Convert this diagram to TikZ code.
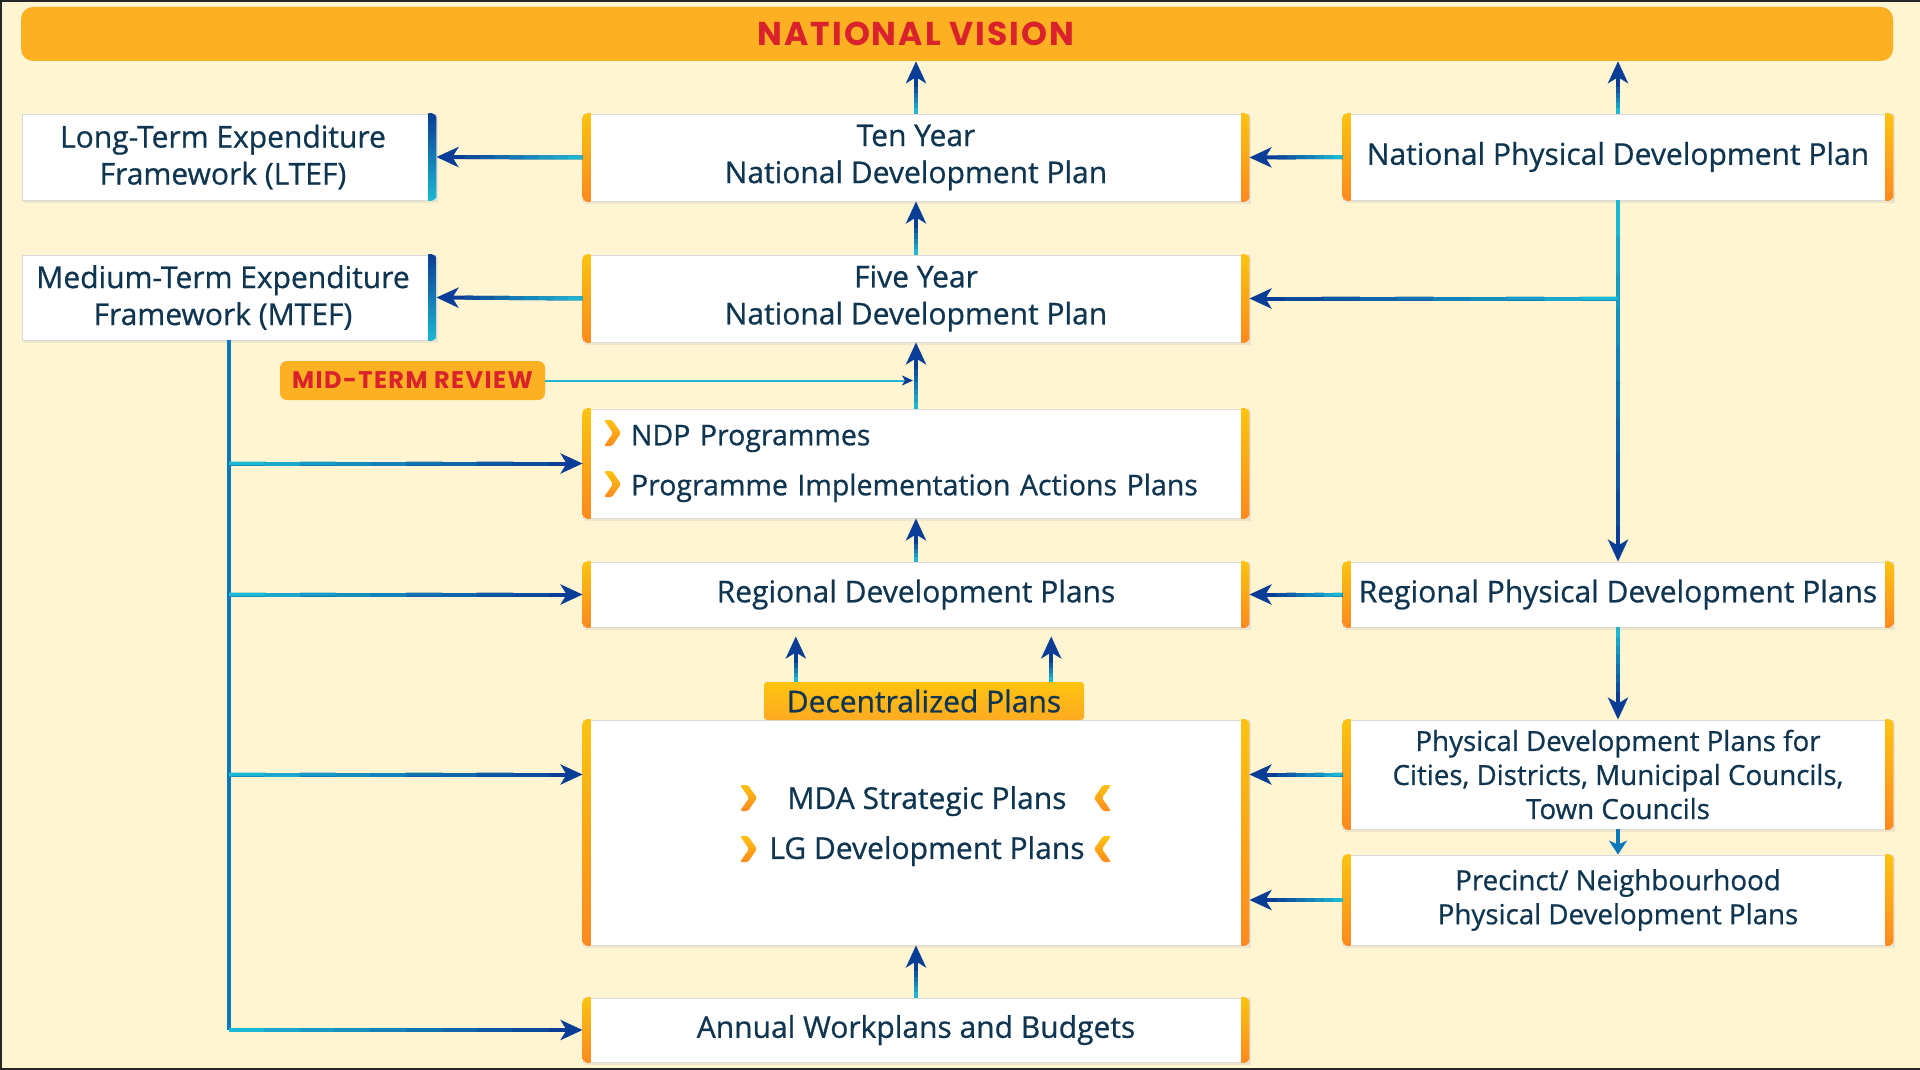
\documentclass[tikz,border=0pt]{standalone}
\usepackage{fontspec}
\setmainfont{Open Sans}
\newfontfamily\bodyf{Open Sans}[FakeBold=0.7]
\newfontfamily\poppf{Poppins}[LetterSpace=6]
\usetikzlibrary{calc,arrows.meta,shadows}
\definecolor{bg}{HTML}{FFF5D2}
\definecolor{ban}{HTML}{FDB022}
\definecolor{redt}{HTML}{D9222B}
\definecolor{txt}{HTML}{0F3550}
\definecolor{cyA}{HTML}{1DB7D3}
\definecolor{bluD}{HTML}{0A3E96}
\definecolor{bluM}{HTML}{0B78BC}
\definecolor{orT}{HTML}{FFC30F}
\definecolor{orB}{HTML}{FF8A1F}
\definecolor{edgec}{HTML}{DADADA}
\tikzset{
  box/.style={draw=edgec, line width=0.8pt, fill=white, text=txt, align=center, inner sep=0pt,
    font=\bodyf\fontsize{30}{37}\selectfont,
    drop shadow={opacity=0.12, shadow xshift=1.5pt, shadow yshift=-2.5pt}},
  midbox/.style={box, minimum width=666pt},
  sidebox/.style={box, minimum width=550pt},
  leftbox/.style={box, minimum width=414pt},
  conn/.style={line width=4pt, draw=bluD, -{Stealth[length=22pt,width=20pt,inset=6pt]}},
  smallconn/.style={line width=4pt, draw=bluM, -{Stealth[length=14pt,width=18pt,inset=4pt]}},
  trunk/.style={line width=4pt, draw=bluM},
  thinconn/.style={line width=2pt, draw=cyA, -{Stealth[length=11pt,width=10pt,inset=3pt,color=bluD]}},
  banner/.style={fill=ban, rounded corners=12pt, inner sep=0pt},
  redlabel/.style={text=redt, font=\poppf\bfseries\fontsize{33}{38}\selectfont, inner sep=0pt},
  midterm/.style={fill=ban, rounded corners=7pt, text=redt, inner sep=0pt,
    font=\poppf\bfseries\fontsize{24}{27}\selectfont, minimum width=265pt, minimum height=39pt},
  dectab/.style={top color=orT, bottom color=ban!85!orB, rounded corners=3pt, text=txt, inner sep=0pt,
    font=\bodyf\fontsize{30}{34}\selectfont, minimum width=320pt, minimum height=38pt},
}
% gradient overlay on the tail part of a connector
\newcommand\gtail[3]{%
  \foreach \gk in {1,...,#3}{%
    \pgfmathsetmacro\gta{(\gk-1)/10}%
    \pgfmathsetmacro\gtb{\gk/10+0.004}%
    \pgfmathtruncatemacro\gpc{100-(\gk-1)*100/#3}%
    \draw[line width=4pt, draw=cyA!\gpc!bluD] ($(#1)!\gta!(#2)$) -- ($(#1)!\gtb!(#2)$);
  }}
% orange side bars
\newcommand\obars[1]{%
  \shade[top color=orT, bottom color=orB, rounded corners=4pt] (#1.north west) rectangle ([xshift=8pt]#1.south west);
  \shade[top color=orT, bottom color=orB] ([xshift=4pt]#1.north west) rectangle ([xshift=8pt]#1.south west);
  \shade[top color=orT, bottom color=orB, rounded corners=4pt] ([xshift=-8pt]#1.north east) rectangle (#1.south east);
  \shade[top color=orT, bottom color=orB] ([xshift=-8pt]#1.north east) rectangle ([xshift=-4pt]#1.south east);}
% blue right bar
\newcommand\bbar[1]{%
  \shade[top color=bluD, bottom color=cyA, rounded corners=4pt] ([xshift=-8pt]#1.north east) rectangle (#1.south east);
  \shade[top color=bluD, bottom color=cyA] ([xshift=-8pt]#1.north east) rectangle ([xshift=-4pt]#1.south east);}
% chevrons (x,y of top-left / top-right)
\newcommand\chevR[2]{\shade[top color=orT, bottom color=orB, rounded corners=1.5pt] (#1,#2) -- ++(8,0) -- ++(9,13) -- ++(-9,13) -- ++(-8,0) -- ++(9,-13) -- cycle;}
\newcommand\chevL[2]{\shade[top color=orT, bottom color=orB, rounded corners=1.5pt] (#1,#2) -- ++(-8,0) -- ++(-9,13) -- ++(9,13) -- ++(8,0) -- ++(-9,-13) -- cycle;}
\begin{document}
\begin{tikzpicture}[x=1pt,y=-1pt]
\useasboundingbox (0,0) rectangle (1920,1070);
\fill[bg] (0,0) rectangle (1920,1070);
\draw[line width=4pt, black!85] (1920,0) -- (0,0) -- (0,1070) -- (1920,1070);

% banner
\node[banner, minimum width=1872pt, minimum height=54pt] (vision) at (957,34) {};

% middle column
\node[midbox, minimum height=87pt] (TenYear) at (916,157.5) {Ten Year\\National Development Plan};
\node[midbox, minimum height=87pt] (FiveYear) at (916,298.5) {Five Year\\National Development Plan};
\node[midbox, minimum height=109pt, text width=570pt, align=left, font=\bodyf\fontsize{28.5}{50}\selectfont] (NDP) at (916,463.5) {NDP Programmes\\Programme Implementation Actions Plans};
\node[midbox, minimum height=65pt] (RegDP) at (916,594.5) {Regional Development Plans};
\node[midbox, minimum height=225pt, text depth=20pt, font=\bodyf\fontsize{30}{50}\selectfont] (Big) at (916,832.5) {\hspace*{22pt}MDA Strategic Plans\\\hspace*{22pt}LG Development Plans};
\node[midbox, minimum height=64pt] (Annual) at (916,1030) {Annual Workplans and Budgets};

% left column
\node[leftbox, minimum height=86pt] (LTEF) at (229,157) {Long-Term Expenditure\hspace*{12pt}\\Framework (LTEF)\hspace*{12pt}};
\node[leftbox, minimum height=85pt] (MTEF) at (229,297.5) {Medium-Term Expenditure\hspace*{12pt}\\Framework (MTEF)\hspace*{12pt}};

% right column
\node[sidebox, minimum height=86pt] (NPDP) at (1618,157) {National Physical Development Plan};
\node[sidebox, minimum height=65pt] (RPDP) at (1618,594.5) {Regional Physical Development Plans};
\node[sidebox, minimum height=109pt, font=\bodyf\fontsize{27.7}{34}\selectfont] (PDPc) at (1618,774.5) {Physical Development Plans for\\Cities, Districts, Municipal Councils,\\Town Councils};
\node[sidebox, minimum height=90pt, font=\bodyf\fontsize{27.7}{34}\selectfont] (Precinct) at (1618,900) {Precinct/ Neighbourhood\\Physical Development Plans};

% labels
\node[redlabel] (visiontext) at (vision.center -| TenYear.north) {NATIONAL VISION};
\node[midterm] (mtr) at (412.5,380.5) {MID-TERM REVIEW};
\node[dectab] (dec) at (924,701) {Decentralized Plans};

% side bars
\obars{TenYear}\obars{FiveYear}\obars{NDP}\obars{RegDP}\obars{Big}\obars{Annual}
\obars{NPDP}\obars{RPDP}\obars{PDPc}\obars{Precinct}
\bbar{LTEF}\bbar{MTEF}

% chevrons
\chevR{604}{420}\chevR{604}{471}
\chevR{740}{785}\chevR{740}{836}
\chevL{1111}{785}\chevL{1111}{836}

% helper coordinates
\coordinate (v1) at (TenYear.north |- vision.south);
\coordinate (v2) at (NPDP.north |- vision.south);
\coordinate (j5) at (NPDP.south |- FiveYear.east);
\coordinate (b1) at (Big.east |- PDPc.west);
\coordinate (b2) at (Big.east |- Precinct.west);
\coordinate (b3) at (Big.west |- PDPc.west);
\coordinate (t1) at (MTEF.south |- NDP.west);
\coordinate (t2) at (MTEF.south |- RegDP.west);
\coordinate (t3) at (MTEF.south |- PDPc.west);
\coordinate (t4) at (MTEF.south |- Annual.west);
\coordinate (m1) at (FiveYear.south |- mtr.east);
\coordinate (d1) at ([xshift=32pt]dec.north west);
\coordinate (d2) at ([xshift=-33pt]dec.north east);
\coordinate (d1e) at ($(d1 |- RegDP.south)+(0,9)$);
\coordinate (d2e) at ($(d2 |- RegDP.south)+(0,9)$);

% connectors
\draw[conn] (TenYear.north) -- (v1); \gtail{TenYear.north}{v1}{5}
\draw[conn] (NPDP.north) -- (v2); \gtail{NPDP.north}{v2}{5}
\draw[conn] (TenYear.west) -- (LTEF.east); \gtail{TenYear.west}{LTEF.east}{8}
\draw[conn] (FiveYear.west) -- (MTEF.east); \gtail{FiveYear.west}{MTEF.east}{8}
\draw[conn] (NPDP.west) -- (TenYear.east); \gtail{NPDP.west}{TenYear.east}{7}
\draw[conn] (FiveYear.north) -- (TenYear.south); \gtail{FiveYear.north}{TenYear.south}{5}
\draw[conn] (NDP.north) -- (FiveYear.south); \gtail{NDP.north}{FiveYear.south}{6}
\draw[conn] (NPDP.south) -- (RPDP.north); \gtail{NPDP.south}{RPDP.north}{9}
\draw[conn] (j5) -- (FiveYear.east); \gtail{j5}{FiveYear.east}{9}
\draw[conn] (RegDP.north) -- (NDP.south); \gtail{RegDP.north}{NDP.south}{4}
\draw[conn] (d1) -- (d1e); \gtail{d1}{d1e}{4}
\draw[conn] (d2) -- (d2e); \gtail{d2}{d2e}{4}
\draw[conn] (RPDP.west) -- (RegDP.east); \gtail{RPDP.west}{RegDP.east}{7}
\draw[conn] (RPDP.south) -- (PDPc.north); \gtail{RPDP.south}{PDPc.north}{7}
\draw[smallconn] (PDPc.south) -- (Precinct.north);
\draw[conn] (PDPc.west) -- (b1); \gtail{PDPc.west}{b1}{7}
\draw[conn] (Precinct.west) -- (b2); \gtail{Precinct.west}{b2}{7}
\draw[conn] (Annual.north) -- (Big.south); \gtail{Annual.north}{Big.south}{5}
\draw[trunk] (MTEF.south) -- (t4);
\draw[conn] (t1) -- (NDP.west); \gtail{t1}{NDP.west}{9}
\draw[conn] (t2) -- (RegDP.west); \gtail{t2}{RegDP.west}{9}
\draw[conn] (t3) -- (b3); \gtail{t3}{b3}{9}
\draw[conn] (t4) -- (Annual.west); \gtail{t4}{Annual.west}{9}
\draw[thinconn, shorten >=3pt] (mtr.east) -- (m1);
\end{tikzpicture}
\end{document}
